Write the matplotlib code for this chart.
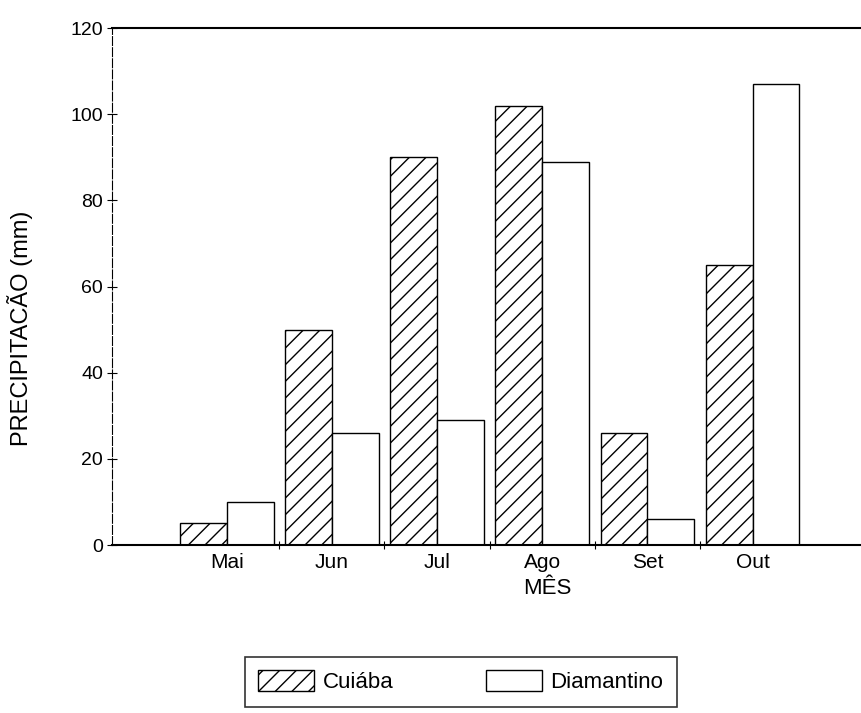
import numpy as np
import matplotlib
matplotlib.use('Agg')
import matplotlib.pyplot as plt
from matplotlib.patches import Patch

# monthly rainfall (mm)
meses = ["Mai", "Jun", "Jul", "Ago", "Set", "Out"]
cuiaba = [5, 50, 90, 102, 26, 65]
diamantino = [10, 26, 29, 89, 6, 107]
yticks = [0, 20, 40, 60, 80, 100, 120]

plt.rcParams['font.family'] = ['Liberation Sans', 'DejaVu Sans']
plt.rcParams['hatch.linewidth'] = 1.0

fig = plt.figure(figsize=(8.62, 7.13), dpi=100)
ax = fig.add_axes([0.130, 0.2356, 0.870, 0.7251])

x = np.arange(len(meses))
w = 0.445
ax.bar(x - w / 2, cuiaba, w, facecolor='white', edgecolor='black',
       linewidth=1.0, hatch='//')
ax.bar(x + w / 2, diamantino, w, facecolor='white', edgecolor='black',
       linewidth=1.0)

ax.set_xlim(-1.09, 6.04)
ax.set_ylim(0, 120)
ax.set_yticks(yticks)
ax.set_xticks(x)
ax.set_xticklabels(meses)
ax.set_xticks(x[:-1] + 0.5, minor=True)

ax.tick_params(axis='x', which='major', length=0, pad=6, labelsize=15)
ax.tick_params(axis='x', which='minor', length=6, direction='inout', width=0.8)
ax.tick_params(axis='y', length=7, direction='inout', width=0.8, labelsize=14, pad=3)

ax.spines['right'].set_visible(False)
ax.spines['left'].set_linewidth(0.8)
ax.spines['left'].set_linestyle((0, (8, 2)))
ax.spines['bottom'].set_linewidth(1.5)
ax.spines['top'].set_linewidth(1.5)

ax.set_xlabel("MÊS", fontsize=16)
ax.xaxis.set_label_coords(0.58, -0.063)
ax.xaxis.label.set_verticalalignment('top')
ax.set_ylabel("PRECIPITACÃO (mm)", fontsize=17)
ax.yaxis.set_label_coords(-0.105, 0.42)

handles = [Patch(facecolor='white', edgecolor='black', hatch='//', label='Cuiába'),
           Patch(facecolor='white', edgecolor='black', label='Diamantino')]
leg = fig.legend(handles=handles, loc='upper left',
                 bbox_to_anchor=(0.284, 0.0, 0.501, 0.079), mode='expand',
                 ncol=2, fontsize=16, frameon=True, fancybox=False,
                 edgecolor='black', handlelength=2.5, handleheight=1.1,
                 borderpad=0.6, borderaxespad=0, handletextpad=0.4)
leg.get_frame().set_linewidth(1.2)

fig.savefig('out.png', dpi=100)
